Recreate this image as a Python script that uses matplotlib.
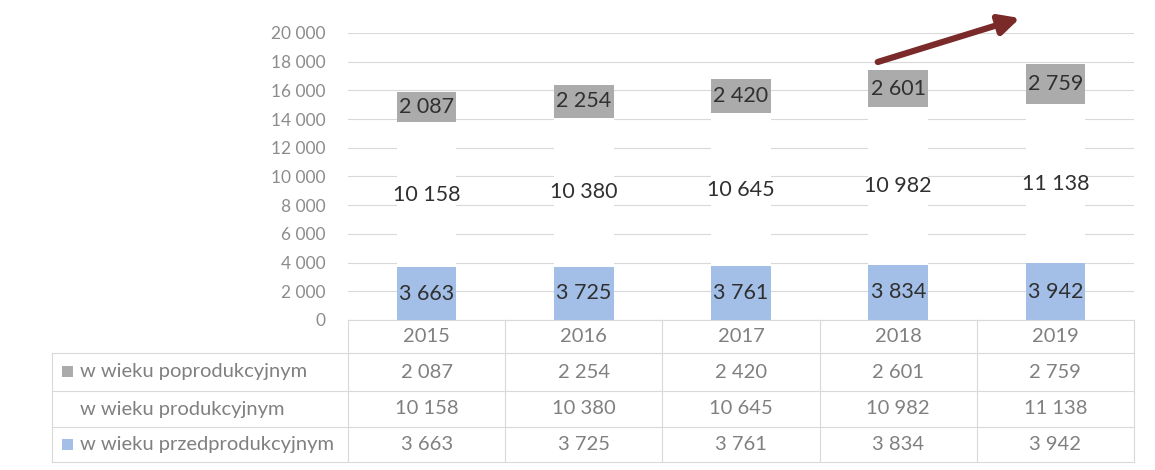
import matplotlib
matplotlib.use("Agg")
import matplotlib.pyplot as plt
from matplotlib.patches import Rectangle
import numpy as np

# data
years = ["2015", "2016", "2017", "2018", "2019"]
przedprodukcyjny = [3663, 3725, 3761, 3834, 3942]
produkcyjny = [10158, 10380, 10645, 10982, 11138]
poprodukcyjny = [2087, 2254, 2420, 2601, 2759]
row_names = ["w wieku poprodukcyjnym", "w wieku produkcyjnym", "w wieku przedprodukcyjnym"]
y_ticks = list(range(0, 20001, 2000))

BLUE = "#a3bfe8"
GRAY = "#ababab"
GRID = "#d9d9d9"
TXT_LIGHT = "#808080"


def fmt(v):
    return f"{v:,.0f}".replace(",", " ")


plt.rcParams['font.family'] = ['Lato', 'DejaVu Sans']

W, H = 1155, 470
AX_L, AX_R, AX_T, AX_B = 348, 1134, 33, 320
fig = plt.figure(figsize=(W / 100, H / 100), dpi=100)
ax = fig.add_axes([AX_L / W, (H - AX_B) / H, (AX_R - AX_L) / W, (AX_B - AX_T) / H])

x = np.arange(len(years))
w = 0.38
b1 = ax.bar(x, przedprodukcyjny, width=w, color=BLUE)
b2 = ax.bar(x, produkcyjny, width=w, bottom=przedprodukcyjny, color="white")
bottom3 = np.array(przedprodukcyjny) + np.array(produkcyjny)
b3 = ax.bar(x, poprodukcyjny, width=w, bottom=bottom3, color=GRAY)

for c in (b1, b2, b3):
    ax.bar_label(c, fmt=fmt, label_type="center", fontsize=15.5, color="#303030")

ax.set_xlim(-0.5, len(years) - 0.5)
ax.set_ylim(0, 20000)
ax.set_yticks(y_ticks)
ax.set_yticklabels([fmt(v) for v in y_ticks], fontsize=12.5, color="#8c8c8c")
ax.tick_params(axis="y", length=0, pad=16)
ax.tick_params(axis="x", length=0, labelbottom=False)
ax.yaxis.grid(True, color=GRID, lw=0.8)
ax.set_axisbelow(True)
for s in ax.spines.values():
    s.set_visible(False)


# data table under the chart, laid out in pixel units of the figure
def fx(px):
    return px / W


def fy(py):
    return (H - py) / H


tbl_left = 52
col_w = (AX_R - AX_L) / len(years)
row_edges = [320, 353, 391, 427, 462]
line_kw = dict(color=GRID, lw=0.8, transform=fig.transFigure)

fig.add_artist(plt.Line2D([fx(AX_L), fx(AX_R)], [fy(row_edges[0])] * 2, **line_kw))
for ry in row_edges[1:]:
    fig.add_artist(plt.Line2D([fx(tbl_left), fx(AX_R)], [fy(ry)] * 2, **line_kw))
fig.add_artist(plt.Line2D([fx(tbl_left)] * 2, [fy(row_edges[1]), fy(row_edges[-1])], **line_kw))
for k in range(len(years) + 1):
    cx = AX_L + k * col_w
    fig.add_artist(plt.Line2D([fx(cx)] * 2, [fy(row_edges[0]), fy(row_edges[-1])], **line_kw))

cell_text = [[fmt(v) for v in poprodukcyjny],
             [fmt(v) for v in produkcyjny],
             [fmt(v) for v in przedprodukcyjny]]
txt_kw = dict(fontsize=14.5, color=TXT_LIGHT, va="center", transform=fig.transFigure)

for i, yr in enumerate(years):
    cx = AX_L + (i + 0.5) * col_w
    fig.text(fx(cx), fy((row_edges[0] + row_edges[1]) / 2), yr, ha="center", **txt_kw)

keys = [GRAY, None, BLUE]
for r, name in enumerate(row_names):
    cy = (row_edges[r + 1] + row_edges[r + 2]) / 2
    fig.text(fx(80), fy(cy), name, ha="left", **txt_kw)
    if keys[r]:
        fig.patches.append(Rectangle((fx(62), fy(cy + 5)), 11 / W, 11 / H,
                                     transform=fig.transFigure, facecolor=keys[r], edgecolor="none"))
    for i, t in enumerate(cell_text[r]):
        cx = AX_L + (i + 0.5) * col_w
        fig.text(fx(cx), fy(cy), t, ha="center", **txt_kw)

# trend arrow
ax.annotate("", xy=(0.855, 1.052), xytext=(0.674, 0.899), xycoords="axes fraction",
            annotation_clip=False,
            arrowprops=dict(arrowstyle="-|>", color="#7b2a2a", lw=4.5, mutation_scale=30,
                            shrinkA=0, shrinkB=0))

fig.savefig("out.png", dpi=100, facecolor="white")
